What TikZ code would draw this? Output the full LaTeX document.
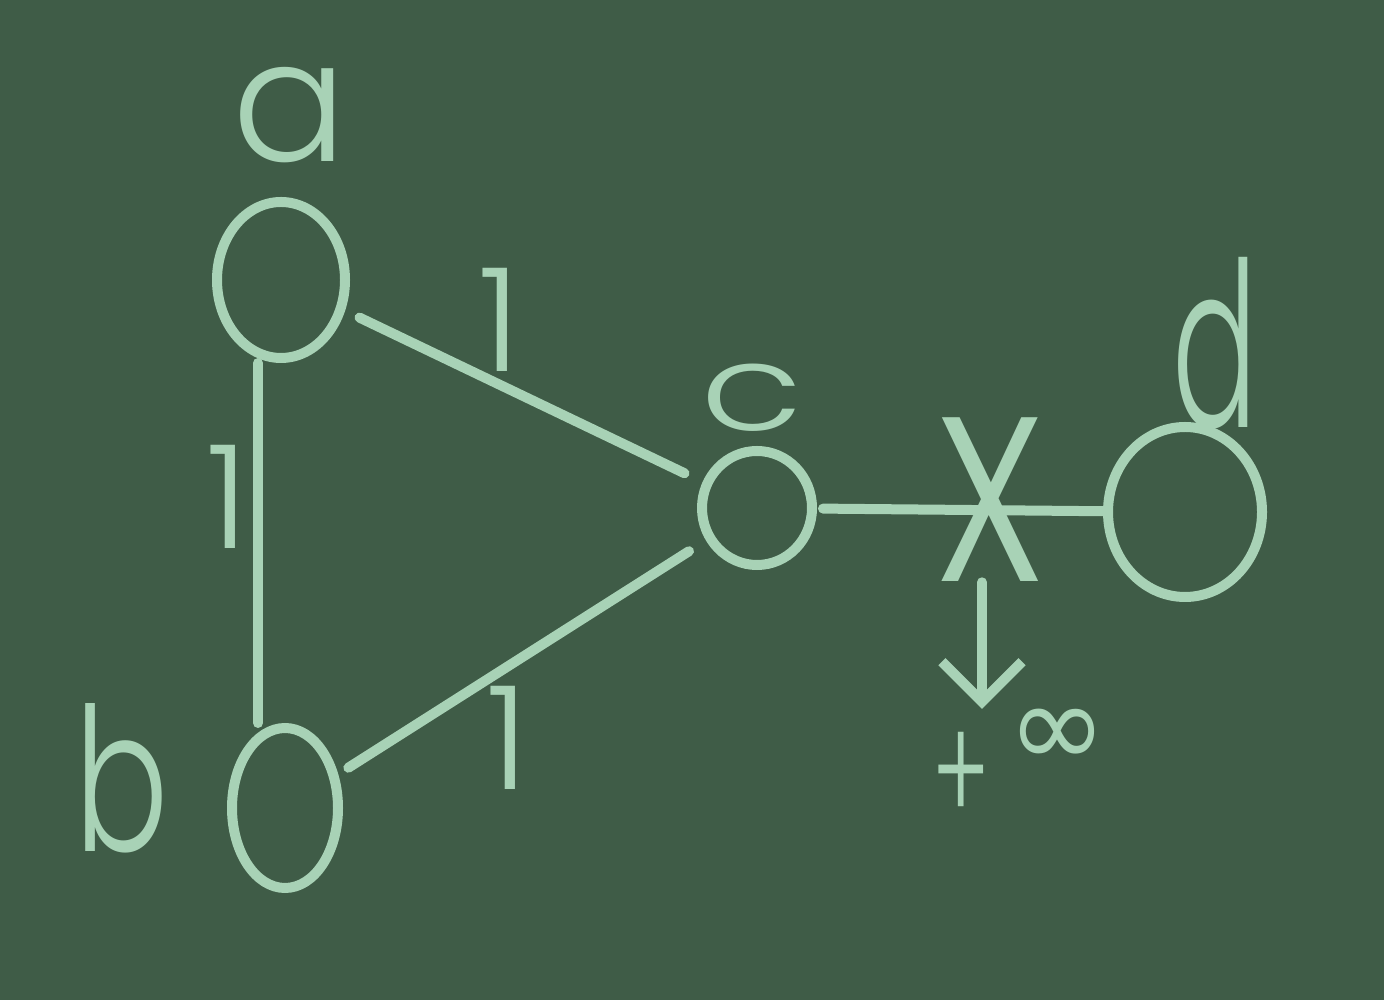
\documentclass[tikz,border=0pt]{standalone}
\usepackage{fontspec}
\setmainfont{Poppins}
\newfontfamily\hand{Poppins Light}
\newfontfamily\symfont{DejaVu Sans}
\usetikzlibrary{shapes.geometric,arrows.meta}
\definecolor{board}{HTML}{3F5C47}
\definecolor{chalk}{HTML}{A8D2B6}
\newcommand{\fsz}[1]{\fontsize{#1}{#1}\selectfont}
\begin{document}
\begin{tikzpicture}[x=0.5pt,y=0.5pt,
  vert/.style={ellipse, draw=chalk, line width=5pt, inner sep=0pt},
  edge/.style={draw=chalk, line width=5pt, line cap=round},
  lbl/.style={text=chalk, inner sep=0pt, font=\hand},
  arr/.style={edge, -{Straight Barb[length=20pt,width=40pt,line width=5pt]}}
]
\fill[board] (0,0) rectangle (1384,1000);
\useasboundingbox (0,0) rectangle (1384,1000);

% vertices
\node[vert, minimum width=64pt, minimum height=78pt] (a) at (281,720) {};
\node[vert, minimum width=53pt, minimum height=80pt] (b) at (285,192) {};
\node[vert, minimum width=55pt, minimum height=57pt] (c) at (757,492) {};
\node[vert, minimum width=77pt, minimum height=85pt] (d) at (1185,488) {};

% vertex names
\node[lbl, font=\hand\fsz{85pt}] (la) at (290,885) {a};
\node[lbl, font=\hand\fsz{100pt}, xscale=0.7] (lb) at (122,222) {b};
\node[lbl, font=\hand\fsz{60pt}, xscale=1.4] (lc) at (752,602) {c};
\node[lbl, font=\hand\fsz{115pt}, xscale=0.55] (ld) at (1215,657) {d};

% edges
\draw[edge] ([xshift=-11.5pt]a.south) -- ([xshift=-13.5pt]b.north);
\draw[edge, shorten <=8pt, shorten >=10pt] (a) -- (c);
\draw[edge, shorten <=6pt, shorten >=10pt] (b) -- (c);
\draw[edge, shorten <=3pt] (c) -- (d);

% edge weights
\node[lbl, font=\hand\fsz{72pt}] (wab) at (228,503) {1};
\node[lbl, font=\hand\fsz{72pt}] (wac) at (500,680) {1};
\node[lbl, font=\hand\fsz{72pt}] (wbc) at (508,262) {1};
\node[lbl, font=\hand\fsz{150pt}, xscale=0.75] (x) at (990,500) {x};

% limit
\node[lbl, font=\hand\fsz{73pt}, anchor=south] (inf) at (1020,176) {\scalebox{0.6}[1]{+}\hspace{9pt}\raisebox{28pt}{\symfont\fsz{60pt}∞}};
\draw[arr] ([xshift=-4pt]x.south) -- ([xshift=-4pt]x.south |- inf.north);
\end{tikzpicture}
\end{document}
